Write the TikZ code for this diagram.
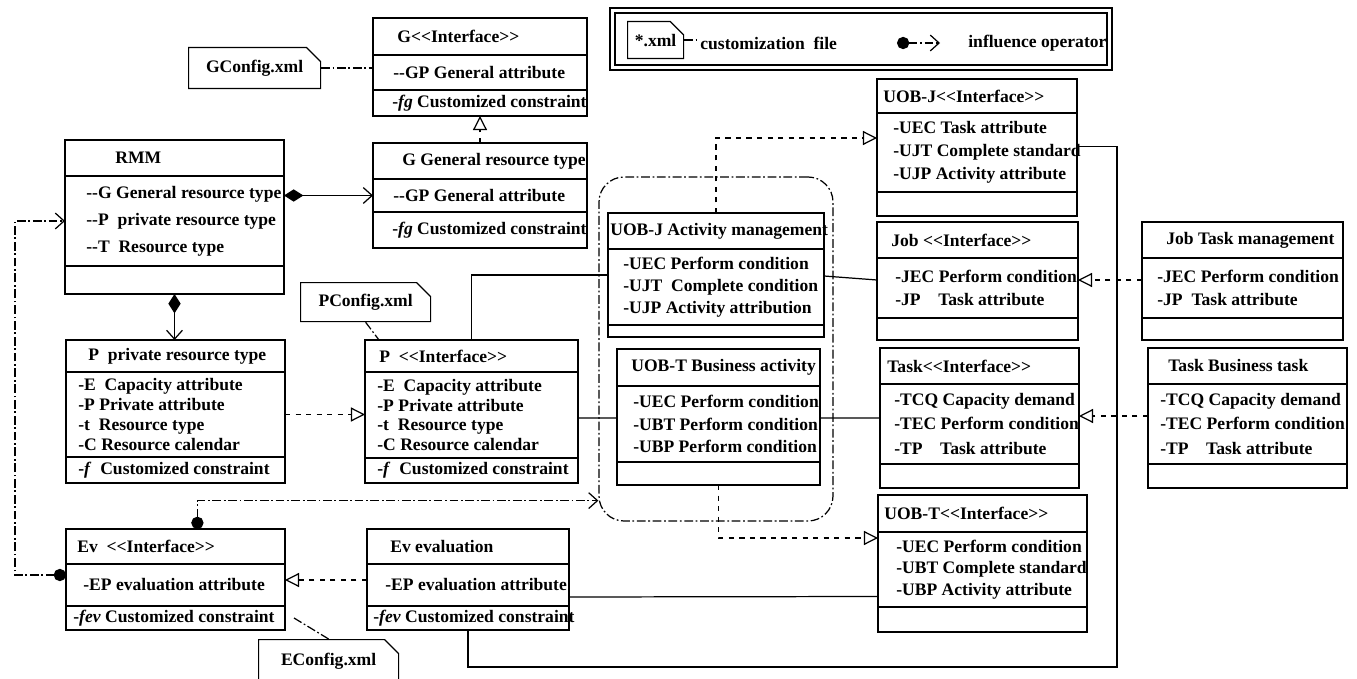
\documentclass[tikz,border=0pt]{standalone}
\usepackage{fontspec}
\setmainfont{Liberation Serif}
\usetikzlibrary{arrows.meta, positioning, fit, calc, shapes.misc}
\def\pu{0.02cm}
\newcommand{\iface}{<{}<Interface>{}>}
\tikzset{
  every node/.style={font=\fontsize{10}{12.8}\selectfont\bfseries},
  cpart/.style={draw, line width=0.7pt, anchor=north west, inner sep=0pt, outer sep=0pt},
  ctext/.style={anchor=west, align=left, inner sep=0pt},
  lead/.style={font=\fontsize{10}{#1}\selectfont\bfseries},
  xmlnote/.style={
    draw, line width=0.7pt, chamfered rectangle, chamfered rectangle corners=north east,
    chamfered rectangle xsep=4pt, chamfered rectangle ysep=4pt, anchor=north west, inner sep=0pt
  },
  dashdot/.style={dash pattern=on 5pt off 1.5pt on 1pt off 1.5pt},
  assoc/.style={line width=0.7pt},
  real/.style={assoc, dashed, -{Triangle[open, length=8pt, width=8pt]}},
  comp/.style={assoc, {Diamond[length=11pt, width=7pt]}-{Straight Barb[length=5pt, width=9pt]}},
  infl/.style={assoc, dashdot, {Circle[length=7pt]}-{Straight Barb[length=5pt, width=9pt]}},
  cfgline/.style={assoc, dashdot},
}
\begin{document}
\begin{tikzpicture}[x=\pu, y=-\pu]
        \useasboundingbox (0,0) rectangle (1357,679);
        \clip (0,0) rectangle (1357,679);
        % legend
        \node[cpart, line width=1.6pt, minimum width=502*\pu, minimum height=62*\pu] (legend) at (610,8) {};
        \draw[line width=0.6pt] ($(legend.north west)+(5,5)$) rectangle ($(legend.south east)+(-5,-5)$);
        \node[xmlnote, minimum width=56*\pu, minimum height=37*\pu] (lgnote) at (627,21) {*.xml};
        \node[ctext] (lgfile) at (700,43) {customization\enspace file};
        \coordinate (lg-a) at (897,43);
        \coordinate (lg-b) at (940,43);
        \node[ctext] (lginfl) at (968,43) {influence operator};
        \draw[cfgline] (lgnote.east) -- (lgnote.east -| lgfile.west);
        \draw[infl] (lg-a) -- (lg-b);

        % G interface + G type
        \node[cpart, minimum width=214*\pu, minimum height=37*\pu, label={[ctext, xshift=24*\pu]west:G\iface}] (gint) at (373,18) {};
        \node[cpart, minimum width=214*\pu, minimum height=35*\pu, label={[ctext, xshift=20*\pu]west:-{}-GP General attribute}] (gint-a) at (gint.south west) {};
        \node[cpart, minimum width=214*\pu, minimum height=26*\pu, label={[ctext, xshift=19*\pu]west:-\textit{fg} Customized constraint}] (gint-o) at (gint-a.south west) {};
        \node[cpart, minimum width=214*\pu, minimum height=36*\pu, label={[ctext, xshift=29*\pu]west:G General resource type}] (ggen) at (373,143) {};
        \node[cpart, minimum width=214*\pu, minimum height=33*\pu, label={[ctext, xshift=20*\pu]west:-{}-GP General attribute}] (ggen-a) at (ggen.south west) {};
        \node[cpart, minimum width=214*\pu, minimum height=36*\pu, label={[ctext, xshift=19*\pu]west:-\textit{fg} Customized constraint}] (ggen-o) at (ggen-a.south west) {};
        \node[xmlnote, minimum width=132*\pu, minimum height=41*\pu] (gcfg) at (188,47) {GConfig.xml};

        % RMM
        \node[cpart, minimum width=219*\pu, minimum height=36*\pu, label={[ctext, xshift=50*\pu]west:RMM}] (rmm) at (65,140) {};
        \node[cpart, minimum width=219*\pu, minimum height=90*\pu, label={[ctext, lead=15.4, xshift=21*\pu]west:{-{}-G General resource type\\-{}-P\enspace private resource type\\-{}-T\enspace Resource type}}] (rmm-a) at (rmm.south west) {};
        \node[cpart, minimum width=219*\pu, minimum height=28*\pu] (rmm-o) at (rmm-a.south west) {};

        % P types
        \node[cpart, minimum width=219*\pu, minimum height=32*\pu, label={[ctext, xshift=22*\pu]west:P\enspace private resource type}] (ppriv) at (66,340) {};
        \node[cpart, minimum width=219*\pu, minimum height=85*\pu, label={[ctext, lead=11.5, xshift=12*\pu]west:{-E\enspace Capacity attribute\\-P Private attribute\\-t\enspace Resource type\\-C Resource calendar}}] (ppriv-a) at (ppriv.south west) {};
        \node[cpart, minimum width=219*\pu, minimum height=26*\pu, label={[ctext, xshift=12*\pu]west:-\textit{f}\enspace Customized constraint}] (ppriv-o) at (ppriv-a.south west) {};
        \node[cpart, minimum width=213*\pu, minimum height=32*\pu, label={[ctext, xshift=14*\pu]west:P\enspace\iface}] (pint) at (365,340) {};
        \node[cpart, minimum width=213*\pu, minimum height=86*\pu, label={[ctext, lead=11.2, xshift=12*\pu]west:{-E\enspace Capacity attribute\\-P Private attribute\\-t\enspace Resource type\\-C Resource calendar}}] (pint-a) at (pint.south west) {};
        \node[cpart, minimum width=213*\pu, minimum height=25*\pu, label={[ctext, xshift=12*\pu]west:-\textit{f}\enspace Customized constraint}] (pint-o) at (pint-a.south west) {};
        \node[xmlnote, minimum width=130*\pu, minimum height=39*\pu] (pcfg) at (300,282) {PConfig.xml};

        % UOB-J
        \node[cpart, minimum width=200*\pu, minimum height=34*\pu, label={[ctext, xshift=6*\pu]west:UOB-J\iface}] (uobjint) at (877,79) {};
        \node[cpart, minimum width=200*\pu, minimum height=79*\pu, label={[ctext, lead=13.1, xshift=16*\pu]west:{-UEC Task attribute\\-UJT Complete standard\\-UJP Activity attribute}}] (uobjint-a) at (uobjint.south west) {};
        \node[cpart, minimum width=200*\pu, minimum height=24*\pu] (uobjint-o) at (uobjint-a.south west) {};
        \node[cpart, minimum width=216*\pu, minimum height=36*\pu, label={[ctext, xshift=2*\pu]west:UOB-J Activity management}] (uobja) at (608,213) {};
        \node[cpart, minimum width=216*\pu, minimum height=76*\pu, label={[ctext, lead=12.5, xshift=15*\pu]west:{-UEC Perform condition\\-UJT\enspace Complete condition\\-UJP Activity attribution}}] (uobja-a) at (uobja.south west) {};
        \node[cpart, minimum width=216*\pu, minimum height=12*\pu] (uobja-o) at (uobja-a.south west) {};

        % Job
        \node[cpart, minimum width=201*\pu, minimum height=36*\pu, label={[ctext, xshift=14*\pu]west:Job \iface}] (jobint) at (877,222) {};
        \node[cpart, minimum width=201*\pu, minimum height=60*\pu, label={[ctext, lead=13.1, xshift=18*\pu]west:{-JEC Perform condition\\-JP\quad Task attribute}}] (jobint-a) at (jobint.south west) {};
        \node[cpart, minimum width=201*\pu, minimum height=22*\pu] (jobint-o) at (jobint-a.south west) {};
        \node[cpart, minimum width=201*\pu, minimum height=36*\pu, label={[ctext, xshift=24*\pu]west:Job Task management}] (jobtask) at (1142,222) {};
        \node[cpart, minimum width=201*\pu, minimum height=60*\pu, label={[ctext, lead=13.1, xshift=15*\pu]west:{-JEC Perform condition\\-JP\enspace Task attribute}}] (jobtask-a) at (jobtask.south west) {};
        \node[cpart, minimum width=201*\pu, minimum height=22*\pu] (jobtask-o) at (jobtask-a.south west) {};

        % UOB-T
        \node[cpart, minimum width=203*\pu, minimum height=37*\pu, label={[ctext, xshift=14*\pu]west:UOB-T Business activity}] (uobtb) at (617,349) {};
        \node[cpart, minimum width=203*\pu, minimum height=76*\pu, label={[ctext, lead=13, xshift=16*\pu]west:{-UEC Perform condition\\-UBT Perform condition\\-UBP Perform condition}}] (uobtb-a) at (uobtb.south west) {};
        \node[cpart, minimum width=203*\pu, minimum height=23*\pu] (uobtb-o) at (uobtb-a.south west) {};
        \node[cpart, minimum width=209*\pu, minimum height=37*\pu, label={[ctext, xshift=6*\pu]west:UOB-T\iface}] (uobtint) at (878,495) {};
        \node[cpart, minimum width=209*\pu, minimum height=75*\pu, label={[ctext, lead=12.2, xshift=18*\pu]west:{-UEC Perform condition\\-UBT Complete standard\\-UBP Activity attribute}}] (uobtint-a) at (uobtint.south west) {};
        \node[cpart, minimum width=209*\pu, minimum height=25*\pu] (uobtint-o) at (uobtint-a.south west) {};

        % Task
        \node[cpart, minimum width=199*\pu, minimum height=36*\pu, label={[ctext, xshift=7*\pu]west:Task\iface}] (taskint) at (880,348) {};
        \node[cpart, minimum width=199*\pu, minimum height=80*\pu, label={[ctext, lead=14, xshift=14*\pu]west:{-TCQ Capacity demand\\-TEC Perform condition\\-TP\quad Task attribute}}] (taskint-a) at (taskint.south west) {};
        \node[cpart, minimum width=199*\pu, minimum height=24*\pu] (taskint-o) at (taskint-a.south west) {};
        \node[cpart, minimum width=199*\pu, minimum height=36*\pu, label={[ctext, xshift=20*\pu]west:Task Business task}] (taskbus) at (1148,348) {};
        \node[cpart, minimum width=199*\pu, minimum height=80*\pu, label={[ctext, lead=14, xshift=12*\pu]west:{-TCQ Capacity demand\\-TEC Perform condition\\-TP\quad Task attribute}}] (taskbus-a) at (taskbus.south west) {};
        \node[cpart, minimum width=199*\pu, minimum height=24*\pu] (taskbus-o) at (taskbus-a.south west) {};

        % Ev
        \node[cpart, minimum width=219*\pu, minimum height=35*\pu, label={[ctext, xshift=11*\pu]west:Ev\enspace\iface}] (evint) at (66,529) {};
        \node[cpart, minimum width=219*\pu, minimum height=42*\pu, label={[ctext, xshift=17*\pu]west:-EP evaluation attribute}] (evint-a) at (evint.south west) {};
        \node[cpart, minimum width=219*\pu, minimum height=24*\pu, label={[ctext, xshift=7*\pu]west:-\textit{fev} Customized constraint}] (evint-o) at (evint-a.south west) {};
        \node[cpart, minimum width=202*\pu, minimum height=35*\pu, label={[ctext, xshift=23*\pu]west:Ev evaluation}] (eveval) at (367,529) {};
        \node[cpart, minimum width=202*\pu, minimum height=42*\pu, label={[ctext, xshift=18*\pu]west:-EP evaluation attribute}] (eveval-a) at (eveval.south west) {};
        \node[cpart, minimum width=202*\pu, minimum height=24*\pu, label={[ctext, xshift=6*\pu]west:-\textit{fev} Customized constraint}] (eveval-o) at (eveval-a.south west) {};
        \node[xmlnote, minimum width=140*\pu, minimum height=44*\pu] (ecfg) at (258,639) {EConfig.xml};

        % activity group
        \node[draw, line width=0.7pt, dashdot, rounded corners=0.5cm, fit=(uobja)(uobtb-o), inner xsep=9*\pu, inner ysep=36*\pu] (grp) {};

        % arrows
        \draw[cfgline] (gcfg.east) -- (gcfg.east -| gint-a.west);
        \draw[cfgline] (pcfg.south) -- ($(pint.north west)+(14,0)$);
        \draw[cfgline] ($(evint-o.east)+(9,0)$) -- (ecfg.north);
        \draw[real] (ggen.north) -- (ggen.north |- gint-o.south);
        \draw[comp] (ggen-a.west -| rmm-a.east) -- (ggen-a.west);
        \draw[comp] (rmm-o.south) -- (rmm-o.south |- ppriv.north);
        \draw[real] (ppriv-a.east) -- (ppriv-a.east -| pint-a.west);
        \draw[assoc] (pint.north) |- ($(uobja-a.west)+(0,-12)$);
        \draw[assoc] ($(pint-a.east)+(0,3)$) -- ($(uobtb-a.west)+(0,-6)$);
        \draw[assoc] ($(uobtb-a.east)+(0,-6)$) -- ($(taskint-a.west)+(0,-6)$);
        \draw[assoc] ($(uobja-a.east)+(0,-11)$) -- ($(jobint-a.west)+(0,-8)$);
        \draw[real] ($(jobtask-a.west)+(0,-8)$) -- ($(jobint-a.east)+(0,-8)$);
        \draw[real] ($(taskbus-a.west)+(0,-8)$) -- ($(taskint-a.east)+(0,-8)$);
        \draw[real] (uobja.north) |- ($(uobjint-a.north west)+(0,25)$);
        \draw[real] (uobtb-o.south) |- ($(uobtint-a.north west)+(0,6)$);
        \draw[assoc] ($(eveval-a.east)+(0,12)$) -- ($(uobtint-a.west)+(0,27)$);
        \draw[real] ($(eveval-a.west)+(0,-5)$) -- ($(evint-a.east)+(0,-5)$);
        \coordinate (loop) at (1117,667);
        \draw[assoc] ($(uobjint-a.east)+(0,-6)$) -| (loop) -| (eveval-o.south);
        \draw[infl] ($(evint.north west)!0.6!(evint.north east)$) |- ($(grp.south west)+(0,-21)$);
        \draw[infl] ($(evint-a.west)+(0,-10)$) -| ($(rmm-a.west)+(-50,0)$) -- (rmm-a.west);
\end{tikzpicture}
\end{document}
